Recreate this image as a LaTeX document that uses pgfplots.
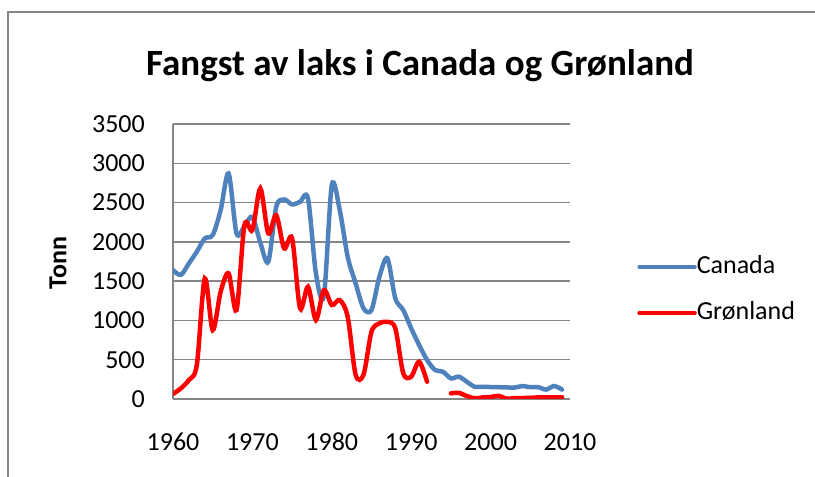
\documentclass[border=0pt]{standalone}
\usepackage{pgfplots}
\pgfplotsset{compat=1.18}
\usepackage{fontspec}
\setmainfont{Carlito}
\definecolor{cblue}{HTML}{4F81BD}
\definecolor{gridgray}{HTML}{868686}
\begin{document}
\begin{tikzpicture}[x=1pt,y=1pt]
\useasboundingbox (0,0) rectangle (815,477);
\draw[gridgray, line width=1.5pt] (8,0) -- (8,465) -- (815,465);
\begin{axis}[
  at={(173pt,78pt)}, anchor=south west,
  scale only axis, width=397pt, height=275pt,
  xmin=1960, xmax=2010, ymin=0, ymax=3500,
  xtick={1960,1970,...,2010},
  ytick={0,500,...,3500},
  axis x line*=bottom, axis y line*=left,
  axis line style={gridgray, line width=1.5pt, -},
  tick style={draw=none},
  ymajorgrids, grid style={gridgray, line width=1.5pt},
  /pgf/number format/1000 sep={},
  /pgf/number format/assume math mode=true,
  tick label style={font=\fontsize{26}{28}\selectfont, text=black},
  xticklabel style={anchor=north, inner sep=0pt, yshift=-34pt},
  yticklabel style={anchor=east, inner sep=0pt, xshift=-28pt},
  unbounded coords=jump,
  legend style={at={(1.169,0.396)}, anchor=west, draw=none, fill=none,
    font=\fontsize{26}{28}\selectfont, inner sep=0pt,
    row sep=22pt,
    nodes={inner sep=0pt, text height=18pt, text depth=6pt}},
  legend cell align=left,
  /tikz/every even column/.append style={column sep=5pt},
  legend image code/.code={\draw[#1] (0pt,0pt) -- (55pt,0pt);},
]
\addplot[cblue, line width=4.5pt, smooth, line cap=round] coordinates {
(1960,1640) (1961,1580) (1962,1726) (1963,1874) (1964,2044) (1965,2086)
(1966,2404) (1967,2871) (1968,2108) (1969,2200) (1970,2319) (1971,1990)
(1972,1747) (1973,2446) (1974,2540) (1975,2476) (1976,2510) (1977,2553)
(1978,1599) (1979,1310) (1980,2722) (1981,2404) (1982,1810) (1983,1472)
(1984,1154) (1985,1132) (1986,1556) (1987,1790) (1988,1281) (1989,1132)
(1990,899) (1991,687) (1992,496) (1993,369) (1994,347) (1995,263)
(1996,284) (1997,220) (1998,156) (1999,156) (2000,152) (2001,150)
(2002,148) (2003,145) (2004,165) (2005,150) (2006,150) (2007,120)
(2008,165) (2009,120)
};
\addlegendentry{Canada}
\addplot[red, line width=4.5pt, smooth, line cap=round] coordinates {
(1960,65) (1961,136) (1962,242) (1963,432) (1964,1535) (1965,878)
(1966,1365) (1967,1599) (1968,1132) (1969,2213) (1970,2150) (1971,2680)
(1972,2108) (1973,2340) (1974,1917) (1975,2044) (1976,1154) (1977,1428)
(1978,1005) (1979,1386) (1980,1196) (1981,1259) (1982,1047) (1983,310)
(1984,310) (1985,856) (1986,963) (1987,983) (1988,899) (1989,327)
(1990,284) (1991,475) (1992,220) (1993,nan) (1994,nan) (1995,72)
(1996,78) (1997,38) (1998,9) (1999,20) (2000,25) (2001,40)
(2002,5) (2003,10) (2004,12) (2005,15) (2006,20) (2007,20)
(2008,22) (2009,22)
};
\addlegendentry{Grønland}
\end{axis}
\node[font=\bfseries\fontsize{37}{40}\selectfont, inner sep=0pt] at (420,411) {Fangst av laks i Canada og Grønland};
\node[font=\bfseries\fontsize{26}{28}\selectfont, rotate=90, inner sep=0pt] at (58,214) {Tonn};
\end{tikzpicture}
\end{document}
